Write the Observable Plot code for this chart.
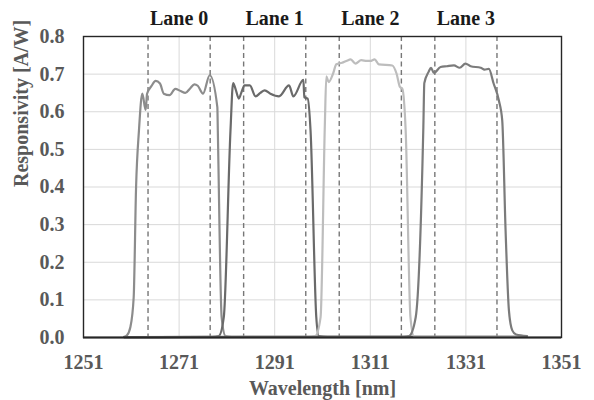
<!DOCTYPE html>
<html>
<head>
<meta charset="utf-8">
<script src="https://cdn.jsdelivr.net/npm/d3@7"></script>
<script src="https://cdn.jsdelivr.net/npm/@observablehq/plot@0.6"></script>
<style>
  html, body { margin: 0; padding: 0; background: #ffffff; }
  #chart { width: 594px; height: 400px; }
  #chart svg text { font-weight: bold; }
</style>
</head>
<body>
<div id="chart"></div>
<script>
// ---- data ----
const laneNames = ["Lane 0", "Lane 1", "Lane 2", "Lane 3"];
const laneCenters = [1271, 1291, 1311, 1331];
const laneEdges = [1264.5, 1277.5, 1284.5, 1297.5, 1304.5, 1317.5, 1324.5, 1337.5];
const xTicks = [1251, 1271, 1291, 1311, 1331, 1351];
const yTicks = [0, 0.1, 0.2, 0.3, 0.4, 0.5, 0.6, 0.7, 0.8];

const wl0 = [1259.5, 1260.1, 1260.8, 1261.5, 1262.0, 1262.6, 1263.3, 1264.0, 1264.3, 1265.2, 1266.1, 1267.0, 1267.8, 1269.0, 1270.2, 1271.3, 1272.3, 1273.3, 1274.2, 1274.9, 1276.0, 1277.4, 1279.0, 1279.1, 1279.9, 1280.7, 1282.0, 1300.0, 1320.0, 1343.0];
const r0  = [0.002, 0.006, 0.027, 0.107, 0.40, 0.55, 0.648, 0.605, 0.648, 0.668, 0.682, 0.675, 0.648, 0.644, 0.661, 0.655, 0.650, 0.662, 0.673, 0.669, 0.648, 0.697, 0.612, 0.55, 0.054, 0.004, 0.002, 0.002, 0.002, 0.002];

const wl1 = [1259.5, 1278.0, 1279.3, 1280.35, 1281.75, 1282.3, 1282.8, 1283.5, 1284.0, 1284.7, 1285.8, 1287.0, 1288.0, 1288.9, 1290.1, 1291.9, 1294.0, 1294.9, 1297.0, 1297.2, 1297.9, 1298.5, 1299.7, 1300.2, 1302.0, 1320.0, 1343.0];
const r1  = [0.001, 0.002, 0.004, 0.054, 0.55, 0.676, 0.661, 0.635, 0.650, 0.670, 0.670, 0.641, 0.650, 0.657, 0.648, 0.641, 0.670, 0.641, 0.685, 0.638, 0.635, 0.55, 0.054, 0.004, 0.002, 0.002, 0.002];

const wl2 = [1259.5, 1298.0, 1299.5, 1300.6, 1301.5, 1301.8, 1302.3, 1303.2, 1303.9, 1305.1, 1306.0, 1306.9, 1307.9, 1309.1, 1310.3, 1311.0, 1311.9, 1312.8, 1315.6, 1316.5, 1317.2, 1317.7, 1318.4, 1319.4, 1320.1, 1322.0, 1343.0];
const r2  = [0.001, 0.002, 0.004, 0.054, 0.57, 0.694, 0.679, 0.701, 0.726, 0.730, 0.735, 0.739, 0.728, 0.737, 0.735, 0.735, 0.739, 0.726, 0.723, 0.701, 0.666, 0.661, 0.55, 0.054, 0.004, 0.002, 0.002];

const wl3 = [1259.5, 1318.0, 1319.1, 1320.5, 1322.1, 1322.3, 1323.2, 1323.7, 1324.3, 1325.7, 1327.0, 1328.5, 1329.7, 1330.9, 1332.0, 1334.1, 1334.9, 1335.8, 1336.8, 1337.9, 1338.6, 1339.3, 1340.0, 1340.7, 1341.5, 1343.8];
const r3  = [0.001, 0.002, 0.004, 0.054, 0.56, 0.676, 0.706, 0.717, 0.703, 0.719, 0.721, 0.723, 0.717, 0.728, 0.721, 0.717, 0.712, 0.714, 0.675, 0.630, 0.577, 0.285, 0.072, 0.019, 0.008, 0.004];

const laneColors = ["#8c8c8c", "#6a6a6a", "#bdbdbd", "#7b7b7b"];

// ---- build table ----
const series = [[wl0, r0], [wl1, r1], [wl2, r2], [wl3, r3]];
const rows = [];
series.forEach(([wl, r], k) => {
  wl.forEach((w, i) => rows.push({lane: laneNames[k], wl: w, r: r[i]}));
});
const labels = laneNames.map((name, i) => ({name, x: laneCenters[i]}));

const font = "'Liberation Serif', 'Times New Roman', serif";
const textColor = "#595959";

const chart = Plot.plot({
  width: 594,
  height: 400,
  marginLeft: 83,
  marginRight: 33,
  marginTop: 36,
  marginBottom: 63,
  style: {fontFamily: font, fontWeight: "bold", fontSize: "20px", color: textColor, background: "#ffffff"},
  x: {domain: [1251, 1351], axis: null},
  y: {domain: [0, 0.8], axis: null},
  color: {domain: laneNames, range: laneColors},
  marks: [
    Plot.gridY(yTicks, {stroke: "#d9d9d9", strokeOpacity: 1, strokeWidth: 1}),
    Plot.gridX(xTicks.slice(1, -1), {stroke: "#d9d9d9", strokeOpacity: 1, strokeWidth: 1}),
    Plot.ruleX(laneEdges, {stroke: "#777777", strokeWidth: 1.4, strokeDasharray: "5,3.5"}),
    Plot.line(rows, {x: "wl", y: "r", z: "lane", stroke: "lane", strokeWidth: 2.2, curve: "monotone-x"}),
    Plot.frame({stroke: "#262626", strokeWidth: 1.4}),
    Plot.ruleY([0], {stroke: "#262626", strokeWidth: 2}),
    Plot.text(xTicks, {x: d => d, y: 0, text: d => String(d), lineAnchor: "middle", dy: 25, fill: textColor, fontSize: 20, fontWeight: "bold"}),
    Plot.text(yTicks, {x: 1251, y: d => d, text: d3.format(".1f"), textAnchor: "end", lineAnchor: "middle", dx: -19, fill: textColor, fontSize: 20, fontWeight: "bold"}),
    Plot.text(labels, {x: "x", text: "name", frameAnchor: "top", lineAnchor: "middle", dy: -17.5, fill: "#1a1a1a", fontSize: 20, fontWeight: "bold"}),
    Plot.text(["Wavelength [nm]"], {frameAnchor: "bottom", lineAnchor: "middle", dy: 51, fill: textColor, fontSize: 20, fontWeight: "bold"}),
    Plot.text(["Responsivity [A/W]"], {frameAnchor: "left", lineAnchor: "middle", dx: -62, rotate: -90, fill: textColor, fontSize: 20, fontWeight: "bold"})
  ]
});
document.getElementById("chart").appendChild(chart);
</script>
</body>
</html>
